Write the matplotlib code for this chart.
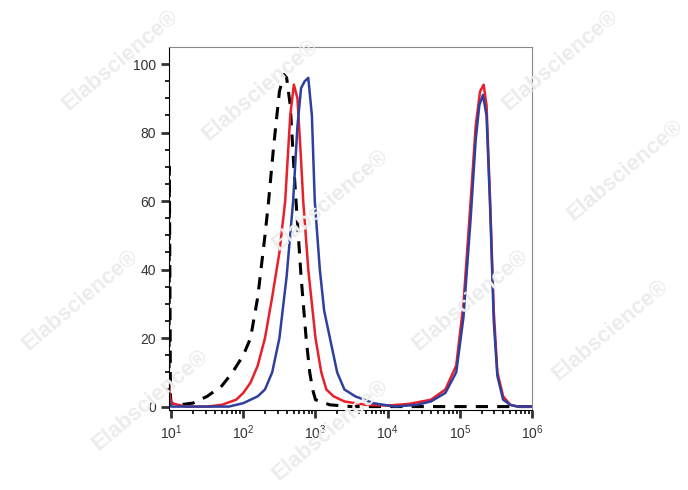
import matplotlib
matplotlib.use('Agg')
import matplotlib.pyplot as plt
import numpy as np

plt.rcParams['font.family'] = ['Liberation Sans', 'DejaVu Sans']
plt.rcParams['mathtext.fontset'] = 'custom'
plt.rcParams['mathtext.rm'] = 'Liberation Sans'

# x values are log10 of fluorescence
blk_x = [0.97, 0.975, 0.99, 1.0, 1.1, 1.3, 1.5, 1.7, 1.85, 2.0, 2.1, 2.2, 2.3, 2.35, 2.42, 2.5, 2.56, 2.6, 2.65, 2.7, 2.73, 2.8, 2.87, 2.92, 2.96, 3.0, 3.2, 3.5, 4.0, 5.0, 6.0]
blk_y = [5, 70, 3, 1, 0.5, 1, 3, 6, 10, 15, 20, 32, 50, 60, 76, 92, 97, 96, 88, 70, 60, 38, 20, 10, 5, 2, 0.5, 0, 0, 0, 0]

red_x = [0.97, 0.98, 1.0, 1.2, 1.5, 1.7, 1.9, 2.0, 2.1, 2.2, 2.3, 2.4, 2.5, 2.58, 2.65, 2.7, 2.75, 2.8, 2.83, 2.9, 3.0, 3.08, 3.15, 3.25, 3.4, 3.7, 4.0, 4.3, 4.6, 4.8, 4.95, 5.05, 5.15, 5.22, 5.28, 5.33, 5.37, 5.42, 5.47, 5.52, 5.6, 5.7, 5.8, 6.0]
red_y = [7, 3, 1, 0, 0, 0.5, 2, 4, 7, 12, 20, 32, 45, 60, 85, 94, 90, 72, 60, 40, 20, 10, 5, 3, 1.5, 0.5, 0.3, 0.8, 2, 5, 12, 30, 60, 82, 92, 94, 88, 60, 28, 10, 3, 0.5, 0, 0]

blu_x = [0.97, 0.98, 1.0, 1.2, 1.5, 1.8, 2.0, 2.2, 2.3, 2.4, 2.5, 2.6, 2.69, 2.75, 2.8, 2.85, 2.9, 2.95, 2.99, 3.06, 3.12, 3.2, 3.3, 3.4, 3.55, 3.8, 4.1, 4.4, 4.6, 4.8, 4.95, 5.05, 5.15, 5.22, 5.27, 5.32, 5.37, 5.42, 5.47, 5.52, 5.6, 5.7, 5.8, 6.0]
blu_y = [2, 1, 0, 0, 0, 0, 1, 3, 5, 10, 20, 38, 60, 82, 93, 95, 96, 85, 60, 40, 28, 20, 10, 5, 3, 1, 0, 0.5, 1.5, 4, 10, 26, 55, 78, 88, 91, 85, 58, 25, 9, 2, 0.5, 0, 0]

fig = plt.figure(figsize=(6.88, 4.90), dpi=100)
ax = fig.add_axes([169/688, 1-410/490, (532-169)/688, (410-47)/490])

ax.plot(blk_x, blk_y, color='black', lw=2.2, ls=(0, (4, 3)))
ax.plot(red_x, red_y, color='#e8202a', lw=1.8)
ax.plot(blu_x, blu_y, color='#2e3f9e', lw=1.8)

ax.set_xlim(0.97, 6.0)
ax.set_ylim(-1, 105)
ax.set_yticks([0, 20, 40, 60, 80, 100])
ax.set_yticks(np.arange(0, 101, 5), minor=True)
ax.set_xticks([1, 2, 3, 4, 5, 6])
ax.set_xticklabels(['$10^{%d}$' % i for i in range(1, 7)])
minor = [d + np.log10(k) for d in range(0, 6) for k in range(2, 10) if 0.97 < d + np.log10(k) < 6]
ax.set_xticks(minor, minor=True)
ax.tick_params(axis='both', which='major', direction='out', length=6, width=2, labelsize=10, colors='#333333')
ax.tick_params(axis='both', which='minor', direction='out', length=3, width=1.2)
for s in ['top', 'right']:
    ax.spines[s].set_color('#888888')
    ax.spines[s].set_linewidth(0.8)

for (x, y) in [(120, 60), (260, 90), (330, 200), (80, 300), (150, 400), (330, 430), (560, 60), (625, 170), (610, 330), (470, 300)]:
    fig.text(x/688, 1-y/490, 'Elabscience\u00ae', fontsize=16, fontweight='bold', color='#ececec',
             rotation=40, ha='center', va='center', zorder=0)

fig.savefig('out.png', dpi=100)
